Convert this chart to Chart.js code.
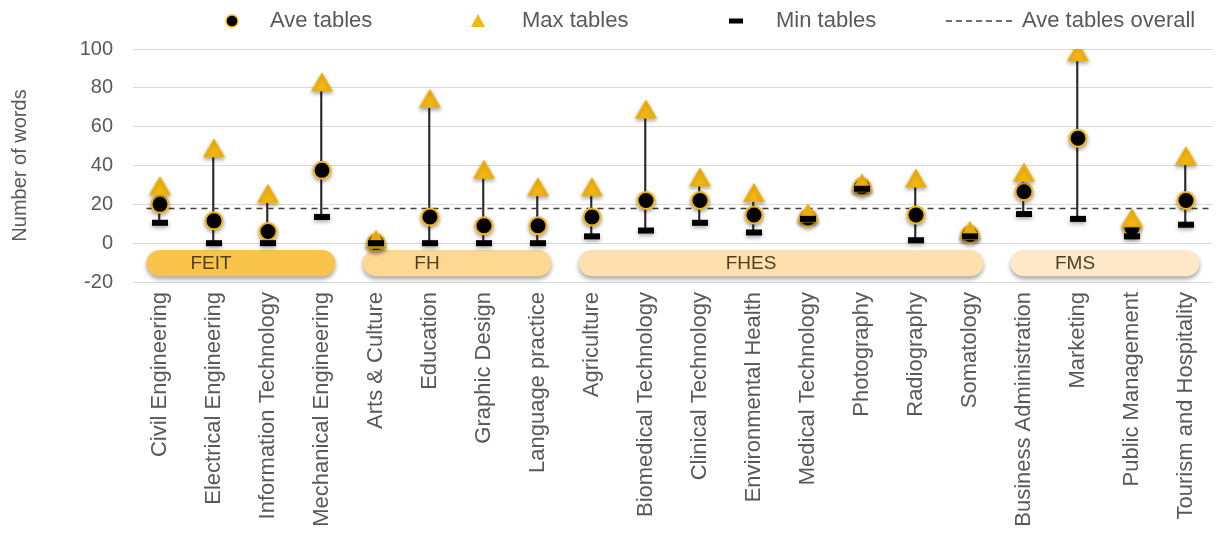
<!DOCTYPE html>
<html>
<head>
<meta charset="utf-8">
<script src="https://cdn.jsdelivr.net/npm/chart.js@4.4.1/dist/chart.umd.min.js"></script>
<style>
  html, body { margin: 0; padding: 0; background: #fff; }
  #wrap { width: 1227px; height: 536px; position: relative; }
</style>
</head>
<body>
<div id="wrap"><canvas id="tablesChart"></canvas></div>
<script>
const programmes = ['Civil Engineering', 'Electrical Engineering', 'Information Technology', 'Mechanical Engineering',
    'Arts & Culture', 'Education', 'Graphic Design', 'Language practice',
    'Agriculture', 'Biomedical Technology', 'Clinical Technology', 'Environmental Health',
    'Medical Technology', 'Photography', 'Radiography', 'Somatology',
    'Business Administration', 'Marketing', 'Public Management', 'Tourism and Hospitality'];
const aveTables = [20, 11.5, 6, 37.5, 0.3, 13.5, 9, 9, 13.5, 22, 22, 14.5, 13, 29, 14.5, 4.5, 26.5, 54, 8, 22];
const maxTables = [28, 47.5, 24, 81.5, 0.5, 73, 36.5, 27.5, 27.5, 67.5, 32.5, 24.5, 14, 29.5, 32, 5, 35, 97, 11.5, 43.5];
const minTables = [10.5, 0, 0, 13.5, 0, 0, 0, 0, 3.5, 6.5, 10.5, 5.5, 12.5, 28, 1.5, 3.5, 15, 12.5, 3.5, 9.5];
const aveOverall = 17.8;
const faculties = ['FEIT', 'FH', 'FHES', 'FMS'];
const facultySizes = [4, 4, 8, 4];
const facultyColors = ['#F9C34C', '#FCD893', '#FDE0AE', '#FDE8C9'];
const yTicks = [-20, 0, 20, 40, 60, 80, 100];

const GOLD = '#F4B612';
const TEXT = '#595959';
const FONT = "'Liberation Sans', Arial, sans-serif";

// rounded faculty bands under the zero line
const facultyBands = {
    id: 'facultyBands',
    beforeDatasetsDraw(chart) {
        const { ctx, scales: { x, y } } = chart;
        const step = x.getPixelForValue(1) - x.getPixelForValue(0);
        const top = y.getPixelForValue(-3.5);
        const bottom = y.getPixelForValue(-17);
        const h = bottom - top;
        let start = 0;
        faculties.forEach((name, k) => {
            const end = start + facultySizes[k] - 1;
            const left = x.getPixelForValue(start) - step * 0.25;
            const right = x.getPixelForValue(end) + step * 0.25;
            ctx.save();
            ctx.shadowColor = 'rgba(0,0,0,0.35)';
            ctx.shadowBlur = 4;
            ctx.shadowOffsetY = 3;
            ctx.fillStyle = facultyColors[k];
            ctx.beginPath();
            ctx.roundRect(left, top, right - left, h, h / 2);
            ctx.fill();
            ctx.restore();
            ctx.save();
            ctx.fillStyle = '#4f3f1f';
            ctx.font = '19px ' + FONT;
            ctx.textAlign = 'center';
            ctx.textBaseline = 'middle';
            ctx.fillText(name, (left + right) / 2 - 30, top + h / 2 + 1);
            ctx.restore();
            start = end + 1;
        });
    }
};

// soft shadow on the markers
const markerShadow = {
    id: 'markerShadow',
    beforeDatasetDraw(chart, args) {
        if (!args.meta.dataset || args.meta.type !== 'line' || args.meta._dataset.showLine !== false) return;
        chart.ctx.save();
        chart.ctx.shadowColor = 'rgba(0,0,0,0.35)';
        chart.ctx.shadowBlur = 4;
        chart.ctx.shadowOffsetY = 2;
    },
    afterDatasetDraw(chart, args) {
        if (!args.meta.dataset || args.meta.type !== 'line' || args.meta._dataset.showLine !== false) return;
        chart.ctx.restore();
    }
};

// legend drawn across the top
const topLegend = {
    id: 'topLegend',
    afterDraw(chart) {
        const ctx = chart.ctx;
        const y = 21;
        ctx.save();
        ctx.font = '22px ' + FONT;
        ctx.fillStyle = TEXT;
        ctx.textBaseline = 'middle';

        // Ave tables
        ctx.beginPath();
        ctx.arc(232, y, 6, 0, Math.PI * 2);
        ctx.fillStyle = '#000';
        ctx.fill();
        ctx.lineWidth = 1.5;
        ctx.strokeStyle = GOLD;
        ctx.stroke();
        ctx.fillStyle = TEXT;
        ctx.fillText('Ave tables', 270, y);

        // Max tables
        ctx.beginPath();
        ctx.moveTo(478, y - 7);
        ctx.lineTo(485, y + 6);
        ctx.lineTo(471, y + 6);
        ctx.closePath();
        ctx.fillStyle = GOLD;
        ctx.fill();
        ctx.fillStyle = TEXT;
        ctx.fillText('Max tables', 522, y);

        // Min tables
        ctx.fillStyle = '#000';
        ctx.fillRect(729, y - 2.5, 14, 5);
        ctx.fillStyle = TEXT;
        ctx.fillText('Min tables', 776, y);

        // Ave tables overall
        ctx.beginPath();
        ctx.setLineDash([6, 4]);
        ctx.moveTo(946, y);
        ctx.lineTo(1012, y);
        ctx.strokeStyle = '#404040';
        ctx.lineWidth = 1.5;
        ctx.stroke();
        ctx.setLineDash([]);
        ctx.fillText('Ave tables overall', 1022, y);
        ctx.restore();
    }
};

new Chart(document.getElementById('tablesChart'), {
    data: {
        labels: programmes,
        datasets: [{
            type: 'bar',
            label: 'Range',
            data: programmes.map((p, i) => [minTables[i], maxTables[i]]),
            backgroundColor: '#2b2b2b',
            barThickness: 1.5,
            order: 10
        }, {
            type: 'line',
            label: 'Ave tables overall',
            xAxisID: 'xLine',
            data: [{ x: -0.25, y: aveOverall }, { x: programmes.length - 0.5, y: aveOverall }],
            borderColor: '#404040',
            borderWidth: 1.5,
            borderDash: [6, 5],
            pointRadius: 0,
            order: 5
        }, {
            type: 'line',
            label: 'Ave tables',
            data: aveTables,
            showLine: false,
            pointStyle: 'circle',
            pointRadius: 8.5,
            pointBackgroundColor: '#000',
            pointBorderColor: GOLD,
            pointBorderWidth: 2,
            order: 3
        }, {
            type: 'line',
            label: 'Max tables',
            data: maxTables,
            showLine: false,
            pointStyle: 'triangle',
            pointRadius: 12,
            pointBackgroundColor: GOLD,
            pointBorderColor: GOLD,
            pointBorderWidth: 1,
            order: 2
        }, {
            type: 'line',
            label: 'Min tables',
            data: minTables,
            showLine: false,
            pointStyle: 'line',
            pointRadius: 8,
            pointBorderColor: '#000',
            pointBorderWidth: 6,
            order: 1
        }]
    },
    options: {
        responsive: true,
        maintainAspectRatio: false,
        animation: false,
        layout: { padding: { top: 49, left: 0, right: 0, bottom: 0 } },
        plugins: {
            legend: { display: false },
            tooltip: { enabled: false }
        },
        scales: {
            x: {
                type: 'category',
                offset: true,
                grid: { display: false, drawTicks: false },
                border: { display: false },
                ticks: {
                    autoSkip: false,
                    minRotation: 90,
                    maxRotation: 90,
                    padding: 10,
                    color: TEXT,
                    font: { family: FONT, size: 22 }
                },
                afterFit(axis) { axis.height = 254; }
            },
            xLine: {
                type: 'linear',
                display: false,
                min: -0.5,
                max: programmes.length - 0.5
            },
            y: {
                min: yTicks[0],
                max: yTicks[yTicks.length - 1],
                afterBuildTicks(axis) { axis.ticks = yTicks.map(v => ({ value: v })); },
                grid: { color: '#d9d9d9', lineWidth: 1, drawTicks: false },
                border: { display: false },
                ticks: {
                    padding: 20,
                    color: TEXT,
                    font: { family: FONT, size: 20 }
                },
                title: {
                    display: true,
                    text: 'Number of words',
                    color: TEXT,
                    font: { family: FONT, size: 20 },
                    padding: { top: 8, bottom: 0 }
                },
                afterFit(axis) { axis.width = 133; }
            }
        }
    },
    plugins: [facultyBands, markerShadow, topLegend]
});
</script>
</body>
</html>
